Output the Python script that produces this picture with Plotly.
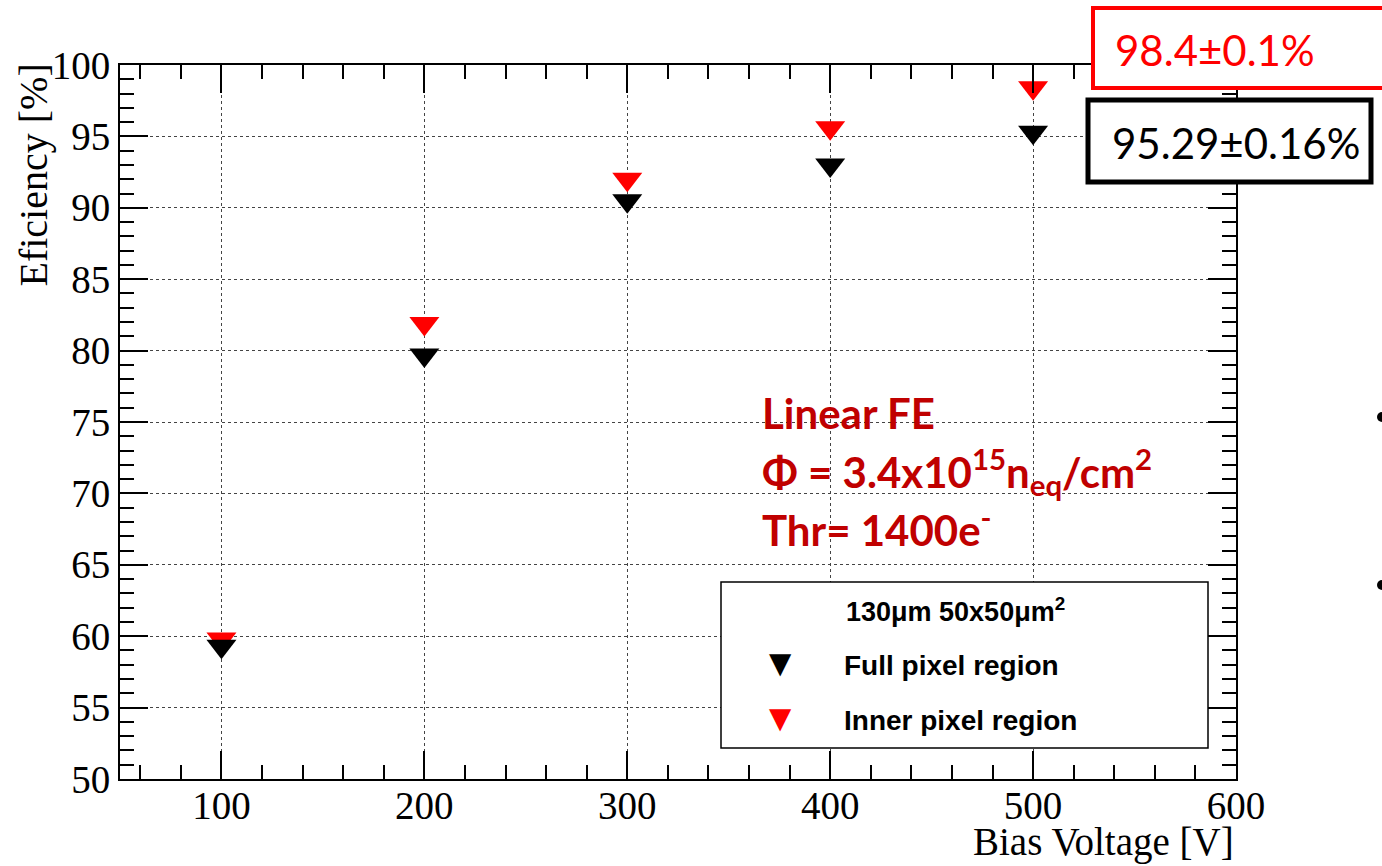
import plotly.graph_objects as go

# ---------------- data ----------------
bias_voltage = [100, 200, 300, 400, 500]
eff_full = [59.3, 79.7, 90.5, 93.0, 95.29]
eff_inner = [59.8, 81.9, 92.0, 95.6, 98.4]
series_names = ["Full pixel region", "Inner pixel region"]
legend_title = "130\u03bcm 50x50\u03bcm<sup>2</sup>"
x_title = "Bias Voltage [V]"
y_title = "Eficiency [%]"
box_inner_text = "98.4\u00b10.1%"
box_full_text = "95.29\u00b10.16%"
note_lines = [
    "<b>Linear FE</b>",
    "<b>\u03a6 = 3.4x10<sup>15</sup>n<sub>eq</sub>/cm<sup>2</sup></b>",
    "<b>Thr= 1400e<sup>-</sup></b>",
]
x_range = [50, 600]
y_range = [50, 100]

# ---------------- layout helpers ----------------
W, H = 1382, 866
L, R, T, B = 120, 146, 65, 87
PW, PH = W - L - R, H - T - B


def px(xp):
    return (xp - L) / PW


def py(yp):
    return (H - B - yp) / PH


SERIF = "Liberation Serif"
SANS = "Liberation Sans"
CAL = "Lato"
DARKRED = "#C00000"

fig = go.Figure()
fig.add_trace(go.Scatter(x=bias_voltage, y=eff_inner, mode="markers", name=series_names[1],
                         marker=dict(symbol="triangle-down", size=26, color="#ff0000", line=dict(width=0))))
fig.add_trace(go.Scatter(x=bias_voltage, y=eff_full, mode="markers", name=series_names[0],
                         marker=dict(symbol="triangle-down", size=26, color="#000000", line=dict(width=0))))
# empty trace only to activate the mirrored tick axes (top / right)
fig.add_trace(go.Scatter(x=[], y=[], xaxis="x2", yaxis="y2", showlegend=False, hoverinfo="skip"))

tick_common = dict(ticks="inside", ticklen=28, tickwidth=2, tickcolor="black", zeroline=False)
minor_x = dict(ticks="inside", ticklen=14, tickwidth=2, tickcolor="black", tick0=0, dtick=20, showgrid=False)
minor_y = dict(ticks="inside", ticklen=14, tickwidth=2, tickcolor="black", tick0=0, dtick=1, showgrid=False)

fig.update_layout(
    xaxis=dict(range=x_range, tick0=0, dtick=100, showline=True, linecolor="black", linewidth=2, mirror="allticks",
               showgrid=True, gridcolor="#444444", gridwidth=1.2, griddash="dot",
               tickfont=dict(family=SERIF, size=39, color="black"), ticklabelstandoff=-9,
               minor=minor_x, **tick_common),
    yaxis=dict(range=y_range, tick0=0, dtick=5, showline=True, linecolor="black", linewidth=2, mirror="allticks",
               showgrid=True, gridcolor="#444444", gridwidth=1.2, griddash="dot",
               tickfont=dict(family=SERIF, size=39, color="black"),
               minor=minor_y, **tick_common),
    xaxis2=dict(range=x_range, tick0=0, dtick=100, overlaying="x", side="top", anchor="y2",
                showgrid=False, showticklabels=False, showline=False, minor=minor_x, **tick_common),
    yaxis2=dict(range=y_range, tick0=0, dtick=5, overlaying="y", side="right", anchor="x2",
                showgrid=False, showticklabels=False, showline=False, minor=minor_y, **tick_common),
)

shapes = []
annotations = []

# axis titles
annotations.append(dict(x=px(1236), y=py(842), xref="paper", yref="paper", xanchor="right", yanchor="middle",
                        text=x_title, showarrow=False, font=dict(family=SERIF, size=39, color="black")))
annotations.append(dict(x=px(33), y=py(62), xref="paper", yref="paper", xanchor="center", yanchor="top",
                        text=y_title, textangle=-90, showarrow=False,
                        font=dict(family=SERIF, size=40, color="black")))

# red note text
for line, yc in zip(note_lines, [413, 471, 527]):
    annotations.append(dict(x=px(760), y=py(yc), xref="paper", yref="paper", xanchor="left", yanchor="middle",
                            text=line, showarrow=False, font=dict(family=CAL, size=42, color=DARKRED)))

# custom legend box
shapes.append(dict(type="rect", xref="paper", yref="paper", x0=px(721), x1=px(1208), y0=py(748), y1=py(582),
                   line=dict(color="black", width=1.5), fillcolor="white", layer="above"))
annotations.append(dict(x=px(955), y=py(610), xref="paper", yref="paper", xanchor="center", yanchor="middle",
                        text="<b>" + legend_title + "</b>", showarrow=False,
                        font=dict(family=SANS, size=27, color="black")))
for name, col, yc in [(series_names[0], "#000000", 665), (series_names[1], "#ff0000", 720)]:
    annotations.append(dict(x=px(780), y=py(yc - 2), xref="paper", yref="paper", xanchor="center", yanchor="middle",
                            text="\u25bc", showarrow=False, font=dict(family="DejaVu Sans", size=29, color=col)))
    annotations.append(dict(x=px(842), y=py(yc), xref="paper", yref="paper", xanchor="left", yanchor="middle",
                            text="<b>" + name + "</b>", showarrow=False,
                            font=dict(family=SANS, size=28, color="black")))

# top-right value boxes
shapes.append(dict(type="rect", xref="paper", yref="paper", x0=px(1093), x1=px(1400), y0=py(88), y1=py(8),
                   line=dict(color="#ff0000", width=4), fillcolor="white", layer="above"))
annotations.append(dict(x=px(1113), y=py(50), xref="paper", yref="paper", xanchor="left", yanchor="middle",
                        text=box_inner_text, showarrow=False, font=dict(family=CAL, size=42, color="#ff0000")))
shapes.append(dict(type="rect", xref="paper", yref="paper", x0=px(1088), x1=px(1371), y0=py(182), y1=py(100),
                   line=dict(color="black", width=5), fillcolor="white", layer="above"))
annotations.append(dict(x=px(1110), y=py(143), xref="paper", yref="paper", xanchor="left", yanchor="middle",
                        text=box_full_text, showarrow=False, font=dict(family=CAL, size=42, color="black")))

# slide bullets at the right edge
for yc in [417, 585]:
    shapes.append(dict(type="circle", xref="paper", yref="paper", x0=px(1377), x1=px(1387),
                       y0=py(yc + 5), y1=py(yc - 5), fillcolor="black", line=dict(width=0), layer="above"))

fig.update_layout(
    width=W, height=H,
    margin=dict(l=L, r=R, t=T, b=B),
    paper_bgcolor="white", plot_bgcolor="white",
    showlegend=False,
    shapes=shapes, annotations=annotations,
)

fig.write_html("out.html")
